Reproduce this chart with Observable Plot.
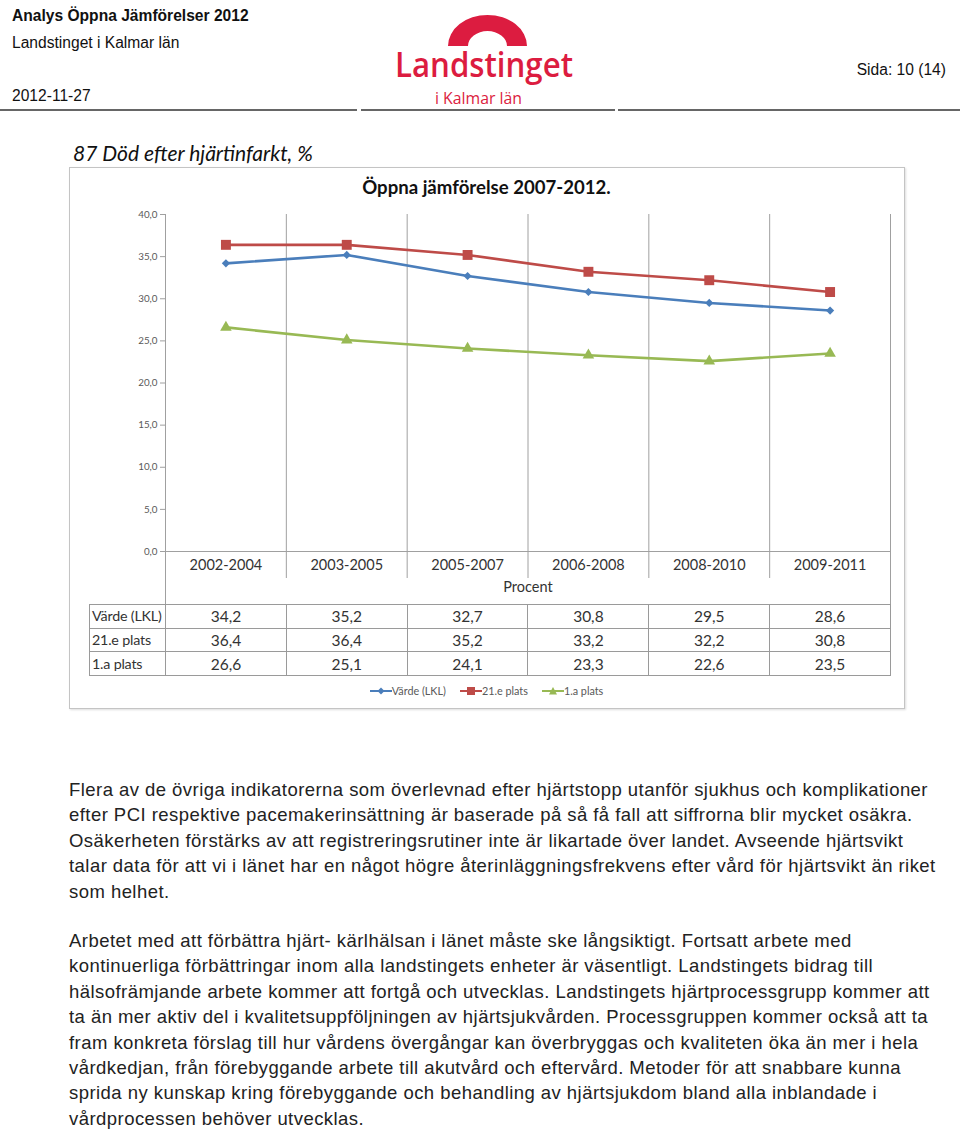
<!DOCTYPE html>
<html><head><meta charset="utf-8">
<script src="https://cdn.jsdelivr.net/npm/d3@7"></script>
<script src="https://cdn.jsdelivr.net/npm/@observablehq/plot@0.6"></script>
<style>
body{margin:0;background:#fff;width:960px;height:1133px;position:relative;overflow:hidden;font-family:"Liberation Sans",Arial,sans-serif;color:#222;}
.abs{position:absolute;white-space:nowrap;}
.hdr{font-size:15.6px;line-height:18px;color:#111;}
.rule{position:absolute;top:109px;height:2px;background:#666;}
#frame{position:absolute;left:69px;top:167px;width:834px;height:540px;border:1px solid #c4c4c4;box-shadow:1px 1px 2px #ddd;}
#heading{left:73px;top:139px;font-family:Lato,sans-serif;font-style:italic;font-size:21px;line-height:28px;color:#111;}
#ctitle{left:69px;width:835px;top:175px;text-align:center;font-family:Lato,sans-serif;font-weight:bold;font-size:18.6px;line-height:24px;color:#111;}
#plot{position:absolute;left:69px;top:195px;}
#tbl{position:absolute;left:89px;top:604px;border-collapse:collapse;table-layout:fixed;width:801px;font-family:Lato,sans-serif;font-size:15.5px;color:#333;}
#tbl td{border:1px solid #9a9a9a;height:22.7px;padding:0;text-align:center;line-height:20px;white-space:nowrap;overflow:visible;}
#tbl td.lab{text-align:left;padding-left:2px;font-size:14.3px;letter-spacing:-0.2px;}
#legend{position:absolute;left:69px;width:835px;top:684px;text-align:center;font-family:Lato,sans-serif;font-size:10.8px;color:#595959;}
#legend span.it{display:inline-flex;align-items:center;margin:0 7px;}
.para{left:69px;font-size:18.5px;letter-spacing:0.45px;line-height:25.4px;color:#222;}
</style></head><body>

<div class="abs hdr" style="left:12px;top:7px;font-weight:bold;">Analys Öppna Jämförelser 2012</div>
<div class="abs hdr" style="left:12px;top:34px;">Landstinget i Kalmar län</div>
<div class="abs hdr" style="left:12px;top:87px;">2012-11-27</div>
<div class="abs hdr" style="right:14px;top:61px;">Sida: 10 (14)</div>
<div class="rule" style="left:0;width:357px;"></div>
<div class="rule" style="left:361px;width:254px;"></div>
<div class="rule" style="left:618px;width:342px;"></div>

<svg class="abs" style="left:0;top:0" width="960" height="108">
  <path d="M448,46 A39.5,31 0 0 1 527,46 L507,46 A19.5,15 0 0 0 468,46 Z" fill="#dc1c40"/>
  <text x="395" y="76.5" font-family="Open Sans" font-weight="600" font-size="35" fill="#dc1c40" textLength="178" lengthAdjust="spacingAndGlyphs">Landstinget</text>
  <text x="435" y="104" font-family="Open Sans" font-weight="500" font-size="16" fill="#dc1c40" textLength="87" lengthAdjust="spacingAndGlyphs">i Kalmar län</text>
</svg>

<div id="heading" class="abs">87 Död efter hjärtinfarkt, %</div>
<div id="frame"></div>
<div id="ctitle" class="abs">Öppna jämförelse 2007-2012.</div>
<div id="plot"></div>
<table id="tbl"></table>
<div id="legend"></div>

<div class="abs para" style="top:777px;">Flera av de övriga indikatorerna som överlevnad efter hjärtstopp utanför sjukhus och komplikationer<br>efter PCI respektive pacemakerinsättning är baserade på så få fall att siffrorna blir mycket osäkra.<br>Osäkerheten förstärks av att registreringsrutiner inte är likartade över landet. Avseende hjärtsvikt<br>talar data för att vi i länet har en något högre återinläggningsfrekvens efter vård för hjärtsvikt än riket<br>som helhet.</div>
<div class="abs para" style="top:928px;">Arbetet med att förbättra hjärt- kärlhälsan i länet måste ske långsiktigt. Fortsatt arbete med<br>kontinuerliga förbättringar inom alla landstingets enheter är väsentligt. Landstingets bidrag till<br>hälsofrämjande arbete kommer att fortgå och utvecklas. Landstingets hjärtprocessgrupp kommer att<br>ta än mer aktiv del i kvalitetsuppföljningen av hjärtsjukvården. Processgruppen kommer också att ta<br>fram konkreta förslag till hur vårdens övergångar kan överbryggas och kvaliteten öka än mer i hela<br>vårdkedjan, från förebyggande arbete till akutvård och eftervård. Metoder för att snabbare kunna<br>sprida ny kunskap kring förebyggande och behandling av hjärtsjukdom bland alla inblandade i<br>vårdprocessen behöver utvecklas.</div>

<script>
// ---- data ----
const categories = ["2002-2004", "2003-2005", "2005-2007", "2006-2008", "2008-2010", "2009-2011"];
const seriesNames = ["Värde (LKL)", "21.e plats", "1.a plats"];
const vardeLKL = [34.2, 35.2, 32.7, 30.8, 29.5, 28.6];
const plats21 = [36.4, 36.4, 35.2, 33.2, 32.2, 30.8];
const plats1 = [26.6, 25.1, 24.1, 23.3, 22.6, 23.5];
const yTicks = [0, 5, 10, 15, 20, 25, 30, 35, 40];
const axisTitle = "Procent";

const seriesValues = [vardeLKL, plats21, plats1];
const colors = ["#4a7ebb", "#be4b48", "#98b954"];
const symbols = ["diamond2", "square", "triangle"];
const radii = [3.7, 5.6, 4.3];

const rows = [];
seriesNames.forEach((s, si) => seriesValues[si].forEach((v, i) => rows.push({series: s, xi: i + 0.5, value: v})));
const centers = categories.map((c, i) => i + 0.5);
const inner = d3.range(1, categories.length);
const outer = [0, categories.length];
const boundaries = d3.range(0, categories.length + 1);
const fmt = d => d.toFixed(1).replace(".", ",");

const chart = Plot.plot({
  width: 835, height: 409,
  marginLeft: 96, marginRight: 14, marginTop: 19, marginBottom: 53,
  style: {fontFamily: "Lato, sans-serif", background: "transparent", overflow: "visible"},
  x: {domain: [0, categories.length]},
  y: {domain: [0, 40]},
  color: {domain: seriesNames, range: colors},
  marks: [
    Plot.ruleX(boundaries, {stroke: "#a0a0a0", strokeWidth: 1}),
    Plot.ruleY([0], {stroke: "#a0a0a0"}),
    Plot.axisY({ticks: yTicks, tickSize: 5, tickPadding: 3, tickFormat: fmt, fontSize: 9.8, color: "#595959", stroke: "#a0a0a0", label: null}),
    Plot.axisX(inner, {tickSize: 27, tickFormat: () => "", stroke: "#a0a0a0", label: null}),
    Plot.axisX(outer, {tickSize: 53, tickFormat: () => "", stroke: "#a0a0a0", label: null}),
    Plot.axisX(centers, {tickSize: 0, tickPadding: 8, tickFormat: d => categories[Math.floor(d)], fontSize: 14.5, color: "#333", label: null}),
    Plot.text([axisTitle], {frameAnchor: "bottom", dy: 40, fontSize: 14.5, fill: "#333"}),
    Plot.line(rows, {x: "xi", y: "value", z: "series", stroke: "series", strokeWidth: 2.6}),
    ...seriesNames.map((s, si) => Plot.dot(rows.filter(r => r.series === s), {x: "xi", y: "value", symbol: () => symbols[si], fill: colors[si], r: radii[si]}))
  ]
});
document.getElementById("plot").appendChild(chart);

// data table under the chart
const tbl = document.getElementById("tbl");
let html = '<colgroup><col style="width:76px">' + categories.map(() => '<col style="width:120.83px">').join("") + '</colgroup>';
seriesNames.forEach((s, si) => {
  html += '<tr><td class="lab">' + s + '</td>' + seriesValues[si].map(v => '<td>' + fmt(v) + '</td>').join("") + '</tr>';
});
tbl.innerHTML = html;

// legend
const marker = si => {
  const c = colors[si];
  if (si === 0) return `<path d="M11,1.5 L14.5,5 L11,8.5 L7.5,5 Z" fill="${c}"/>`;
  if (si === 1) return `<rect x="7" y="1" width="8" height="8" fill="${c}"/>`;
  return `<path d="M11,1 L15,8.5 L7,8.5 Z" fill="${c}"/>`;
};
document.getElementById("legend").innerHTML = seriesNames.map((s, si) =>
  `<span class="it"><svg width="22" height="10"><line x1="0" x2="22" y1="5" y2="5" stroke="${colors[si]}" stroke-width="2"/>${marker(si)}</svg>${s}</span>`).join("");
</script>
</body></html>
